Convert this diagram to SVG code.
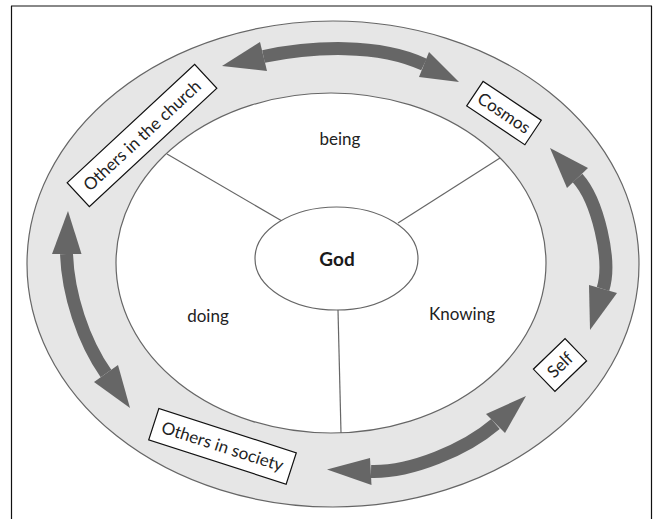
<svg xmlns="http://www.w3.org/2000/svg" width="660" height="519" viewBox="0 0 660 519">
<style>
.lbl{font-family:Lato,"Open Sans","Liberation Sans",sans-serif;font-size:17px;fill:#222;text-anchor:middle}
.god{font-family:Lato,"Open Sans","Liberation Sans",sans-serif;font-size:19px;font-weight:bold;fill:#1a1a1a;text-anchor:middle}
.box{fill:#fff;stroke:#111;stroke-width:1.2}
.spoke{stroke:#666;stroke-width:1.2;fill:none}
.body{stroke:#666;stroke-width:13;fill:none}
.head{fill:#666;stroke:none}
</style>
<rect x="0" y="0" width="660" height="519" fill="#fff"/>
<g id="frame">
<line x1="11" y1="6" x2="652" y2="6" stroke="#888" stroke-width="2"/>
<line x1="11.5" y1="6" x2="11.5" y2="519" stroke="#111" stroke-width="1.2"/>
<line x1="651.5" y1="6" x2="651.5" y2="519" stroke="#111" stroke-width="1.2"/>
</g>
<g id="ring">
<ellipse cx="333" cy="264" rx="306" ry="243" fill="#e6e6e6" stroke="#666" stroke-width="1.2"/>
<ellipse cx="331" cy="263" rx="215" ry="170" fill="#fff" stroke="#666" stroke-width="1.2"/>
</g>
<g id="connectors">
<line class="spoke" x1="167" y1="154" x2="282" y2="221"/>
<line class="spoke" x1="500" y1="158" x2="398" y2="223"/>
<line class="spoke" x1="338" y1="310" x2="341" y2="433"/>
<path class="body" d="M263.5,56.5 C312.5,46.25 378.8,43.1 424,64.5"/>
<polygon class="head" points="222,66 260,42 267,71"/>
<polygon class="head" points="459,82 429,52 419,77"/>
<path class="body" d="M577.5,178 C597.6,200.3 612,260.4 603,289"/>
<polygon class="head" points="550,148 567,188 588,168"/>
<polygon class="head" points="590,330 589,285 617,293"/>
<path class="body" d="M371,471.5 C411,472.5 465.5,449.7 495.5,424"/>
<polygon class="head" points="526,396 486,414 505,433"/>
<polygon class="head" points="327,469.5 370,458 371.5,485"/>
<path class="body" d="M66.5,254 C68,294 83,340.7 106,373.5"/>
<polygon class="head" points="68,211 52,254 81.5,254"/>
<polygon class="head" points="130,408 94,382 118,365"/>
</g>
<g id="god">
<ellipse cx="336.5" cy="258.5" rx="81.5" ry="51.5" fill="#fff" stroke="#666" stroke-width="1.2"/>
<text class="god" x="337" y="266">God</text>
</g>
<g id="being"><text class="lbl" x="340" y="145">being</text></g>
<g id="doing"><text class="lbl" x="208" y="322">doing</text></g>
<g id="knowing"><text class="lbl" x="462" y="320">Knowing</text></g>
<g id="others-church" transform="translate(142,135.5) rotate(-42.9)">
<rect class="box" x="-87" y="-16.3" width="174" height="32.6"/>
<text class="lbl" x="0" y="6">Others in the church</text>
</g>
<g id="cosmos" transform="translate(504,113) rotate(33.8)">
<rect class="box" x="-35" y="-14.7" width="70" height="29.5"/>
<text class="lbl" x="0" y="6">Cosmos</text>
</g>
<g id="self" transform="translate(560,365) rotate(-44)">
<rect class="box" x="-22" y="-15.5" width="44" height="31"/>
<text class="lbl" x="0" y="6">Self</text>
</g>
<g id="others-society" transform="translate(222.5,446.3) rotate(17.9)">
<rect class="box" x="-72.2" y="-16.5" width="144.4" height="33"/>
<text class="lbl" x="0" y="6">Others in society</text>
</g>
</svg>
